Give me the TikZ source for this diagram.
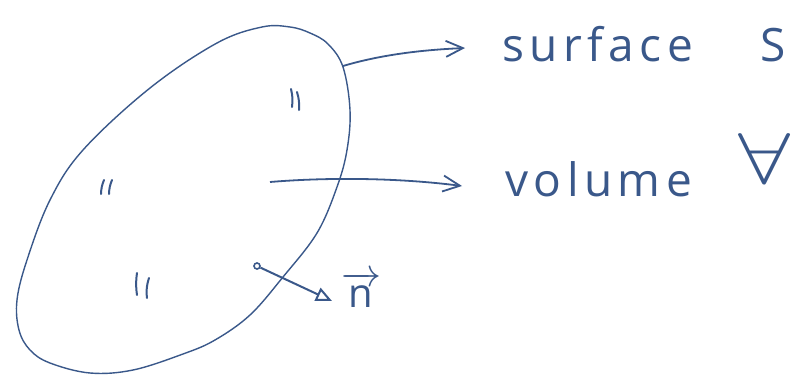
\RequirePackage{fix-cm}
\documentclass[tikz,border=0pt]{standalone}
\usepackage{fontspec}
\setmainfont{Open Sans}
\usetikzlibrary{arrows.meta}
\definecolor{hand}{RGB}{58,88,138}
\begin{document}
\begin{tikzpicture}[x=1pt,y=-1pt,
  outline/.style={draw=hand,line width=1.4pt},
  pointer/.style={draw=hand,line width=1.8pt,-{Straight Barb[length=17pt,width=16pt,line width=1.8pt]}},
  tick/.style={draw=hand,line width=2pt,line cap=round},
  label/.style={text=hand,font=\fontsize{46}{50}\selectfont\addfontfeatures{LetterSpace=12},inner sep=0pt,anchor=base west}]
\useasboundingbox (0,0) rectangle (801,381);
\fill[white] (0,0) rectangle (801,381);
% closed surface
\draw[outline] plot[smooth cycle,tension=0.6] coordinates{
 (262,27) (290,27) (310,33) (328,44) (343,67) (350,110) (347,150) (337,187)
 (317,233) (283,277) (250,315) (215,340) (183,354) (133,370) (90,373) (50,363)
 (30,350) (19,330) (17,300) (27,260) (50,200) (83,150) (150,88) (217,43)};
% ticks inside
\draw[tick] (291,89) to[bend left=10] (292,107);
\draw[tick] (297,92) to[bend left=10] (299,110);
\draw[tick] (104,180) to[bend right=10] (101,194);
\draw[tick] (112,180) to[bend right=10] (109,194);
\draw[tick] (137,273) to[bend right=8] (137,295);
\draw[tick] (149,278) to[bend right=12] (147,298);
% labels
\node[label] (surf) at (502,61) {surface};
\node[label] (ssym) at (760,61) {S};
\node[label] (vol) at (505,196) {volume};
\node[text=hand,inner sep=0pt,anchor=center,font=\fontsize{72}{76}\selectfont] (vsym) at (764,158) {\scalebox{1.3}[1]{$\forall$}};
% pointer arrows
\coordinate (sstart) at (343,66);
\coordinate (send) at (465,48);
\draw[pointer] (sstart) .. controls (380,55) and (420,50) .. (send);
\coordinate (vstart) at (270,182);
\coordinate (vend) at (462,186);
\draw[pointer] (vstart) .. controls (330,177) and (400,178) .. (vend);
% normal vector
\node[circle,draw=hand,line width=1.6pt,inner sep=0pt,minimum size=6pt] (dot) at (257,266) {};
\coordinate (ntip) at (332,301);
\draw[draw=hand,line width=2pt,-{Triangle[open,length=16pt,width=14pt,line width=2pt]}] (dot) -- (ntip);
\node[text=hand,inner sep=0pt,anchor=base west,font=\fontsize{40}{44}\selectfont] (nlab) at (341,307) {$\overrightarrow{\mathrm{n}}$};
\end{tikzpicture}
\end{document}
